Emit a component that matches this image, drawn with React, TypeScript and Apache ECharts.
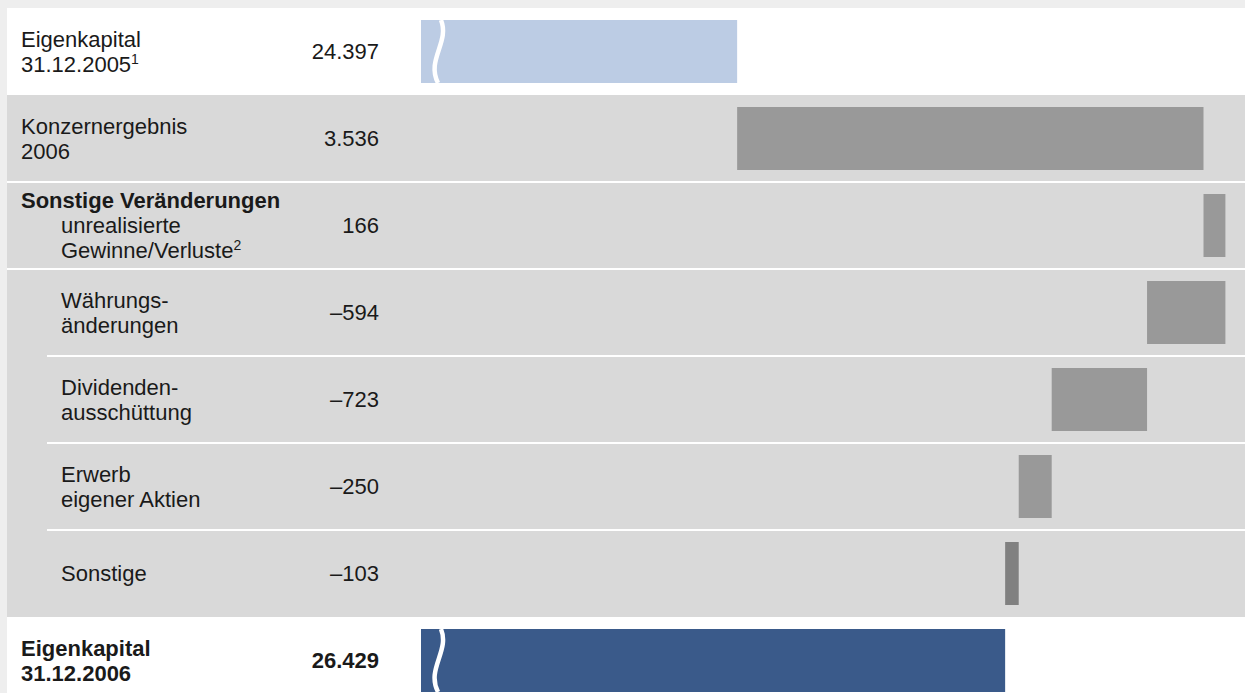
import React, { useEffect, useRef } from 'react';
import * as echarts from 'echarts';

// ---------- data ----------
const CATEGORIES = [
  'Eigenkapital 31.12.2005',
  'Konzernergebnis 2006',
  'unrealisierte Gewinne/Verluste',
  'Währungsänderungen',
  'Dividendenausschüttung',
  'Erwerb eigener Aktien',
  'Sonstige',
  'Eigenkapital 31.12.2006',
];
const START_EQUITY = 24397;
const CHANGES = [3536, 166, -594, -723, -250, -103];
const END_EQUITY = 26429;

// label lines: tokens of [style, text]
const LABEL_LINES: [string, string][][][] = [
  [[['n', 'Eigenkapital']], [['n', '31.12.2005'], ['sup', '1']]],
  [[['n', 'Konzernergebnis']], [['n', '2006']]],
  [[['b', 'Sonstige Veränderungen']], [['i', 'unrealisierte']], [['i', 'Gewinne/Verluste'], ['sup', '2']]],
  [[['i', 'Währungs-']], [['i', 'änderungen']]],
  [[['i', 'Dividenden-']], [['i', 'ausschüttung']]],
  [[['i', 'Erwerb']], [['i', 'eigener Aktien']]],
  [[['i', 'Sonstige']]],
  [[['b', 'Eigenkapital']], [['b', '31.12.2006']]],
];

const AXIS_MIN = 22000;
const AXIS_MAX = 28200;

// ---------- styles / layout ----------
const BAR_COLORS = ['#bccce4', '#999999', '#999999', '#999999', '#999999', '#999999', '#808080', '#3a5a8a'];
const ROW_FILLS = ['#ffffff', '#d9d9d9', '#d9d9d9', '#d9d9d9', '#d9d9d9', '#d9d9d9', '#d9d9d9', '#ffffff'];
const ROW_SEPARATORS = ['none', 'none', 'full', 'full', 'indent', 'indent', 'indent', 'none'];
const BOLD_VALUE = [false, false, false, false, false, false, false, true];
const BREAK_ROWS = [0, 7];

const CHART_W = 1238;
const CHART_H = 685;
const GRID_LEFT = 414;
const ROW_H = 87;
const PX_PER_UNIT = 0.13189;
const BAR_W = 63;
const FONT = "'Liberation Sans', Arial, Helvetica, sans-serif";
const TEXT_COLOR = '#1a1a1a';

function fmt(v: number): string {
  const a = Math.abs(v);
  const s = String(a).replace(/\B(?=(\d{3})+(?!\d))/g, '.');
  return (v < 0 ? '–' : '') + s;
}

export default function App() {
  const ref = useRef<HTMLDivElement>(null);

  useEffect(() => {
    if (!ref.current) return;
    const chart = echarts.init(ref.current, undefined, { renderer: 'svg' });

    const bases: number[] = [0];
    const lengths: number[] = [START_EQUITY];
    let cum = START_EQUITY;
    CHANGES.forEach((d) => {
      const next = cum + d;
      bases.push(Math.min(cum, next));
      lengths.push(Math.abs(d));
      cum = next;
    });
    bases.push(0);
    lengths.push(END_EQUITY);
    const displayValues = [START_EQUITY, ...CHANGES, END_EQUITY];

    const nameFormatter = (_v: string, idx: number) =>
      LABEL_LINES[idx].map((line) => line.map(([st, t]) => `{${st}|${t}}`).join('')).join('\n');

    const valueFormatter = (_v: string, idx: number) =>
      `{${BOLD_VALUE[idx] ? 'vb' : 'v'}|${fmt(displayValues[idx])}}`;

    const baseText = { fontFamily: FONT, fontSize: 22, lineHeight: 25, color: TEXT_COLOR };

    const option: any = {
      animation: false,
      backgroundColor: 'transparent',
      grid: {
        left: GRID_LEFT,
        top: 0,
        width: (AXIS_MAX - AXIS_MIN) * PX_PER_UNIT,
        height: ROW_H * CATEGORIES.length,
        containLabel: false,
        outerBoundsMode: 'none',
      },
      xAxis: {
        type: 'value',
        min: AXIS_MIN,
        max: AXIS_MAX,
        show: false,
        splitLine: { show: false },
      },
      yAxis: [
        {
          type: 'category',
          data: CATEGORIES,
          inverse: true,
          position: 'left',
          z: 20,
          axisLine: { show: false },
          axisTick: { show: false },
          splitLine: { show: false },
          axisLabel: {
            interval: 0,
            align: 'left',
            margin: GRID_LEFT - 14,
            formatter: nameFormatter,
            rich: {
              n: { ...baseText },
              b: { ...baseText, fontWeight: 'bold' },
              i: { ...baseText, padding: [0, 0, 0, 40] },
              sup: { fontFamily: FONT, fontSize: 14, lineHeight: 19, verticalAlign: 'top', color: TEXT_COLOR },
            },
          },
        },
        {
          type: 'category',
          data: CATEGORIES,
          inverse: true,
          position: 'left',
          z: 20,
          axisLine: { show: false },
          axisTick: { show: false },
          splitLine: { show: false },
          axisLabel: {
            interval: 0,
            align: 'right',
            margin: GRID_LEFT - 372,
            formatter: valueFormatter,
            rich: {
              v: { ...baseText },
              vb: { ...baseText, fontWeight: 'bold' },
            },
          },
        },
      ],
      series: [
        {
          type: 'custom',
          name: 'rows',
          z: 1,
          silent: true,
          clip: false,
          encode: { x: 0, y: 1 },
          data: CATEGORIES.map((_c, i) => [AXIS_MIN, i]),
          renderItem: (_p: any, api: any) => {
            const idx = api.value(1);
            const c = api.coord([AXIS_MIN, idx]);
            const h = api.size([0, 1])[1];
            const top = c[1] - h / 2;
            const children: any[] = [
              { type: 'rect', shape: { x: 0, y: top, width: CHART_W, height: h }, style: { fill: ROW_FILLS[idx] } },
            ];
            const sep = ROW_SEPARATORS[idx];
            if (sep !== 'none') {
              children.push({
                type: 'rect',
                shape: { x: sep === 'full' ? 0 : 40, y: top - 1, width: CHART_W, height: 2 },
                style: { fill: '#ffffff' },
              });
            }
            return { type: 'group', children };
          },
        },
        {
          type: 'bar',
          name: 'base',
          stack: 'w',
          z: 2,
          barWidth: BAR_W,
          silent: true,
          itemStyle: { color: 'transparent' },
          data: bases,
        },
        {
          type: 'bar',
          name: 'value',
          stack: 'w',
          z: 2,
          barWidth: BAR_W,
          itemStyle: { color: (p: any) => BAR_COLORS[p.dataIndex] },
          data: lengths,
        },
        {
          type: 'custom',
          name: 'break',
          z: 3,
          silent: true,
          clip: false,
          encode: { x: 0, y: 1 },
          data: BREAK_ROWS.map((i) => [AXIS_MIN, i]),
          renderItem: (_p: any, api: any) => {
            const idx = api.value(1);
            const c = api.coord([AXIS_MIN, idx]);
            const x0 = c[0];
            const t = c[1] - BAR_W / 2;
            return {
              type: 'bezierCurve',
              shape: {
                x1: x0 + 20, y1: t,
                cpx1: x0 + 29, cpy1: t + 22,
                cpx2: x0 + 5, cpy2: t + 40,
                x2: x0 + 17, y2: t + BAR_W,
              },
              style: { stroke: '#ffffff', lineWidth: 4.5, fill: null },
            };
          },
        },
      ],
    };

    chart.setOption(option);
    return () => chart.dispose();
  }, []);

  return (
    <div style={{ position: 'fixed', left: 0, top: 0, right: 0, bottom: 0, background: '#eeeeee', overflow: 'hidden' }}>
      <div
        ref={ref}
        style={{ position: 'absolute', left: 7, top: 8, width: CHART_W, height: CHART_H, background: '#ffffff' }}
      />
    </div>
  );
}
